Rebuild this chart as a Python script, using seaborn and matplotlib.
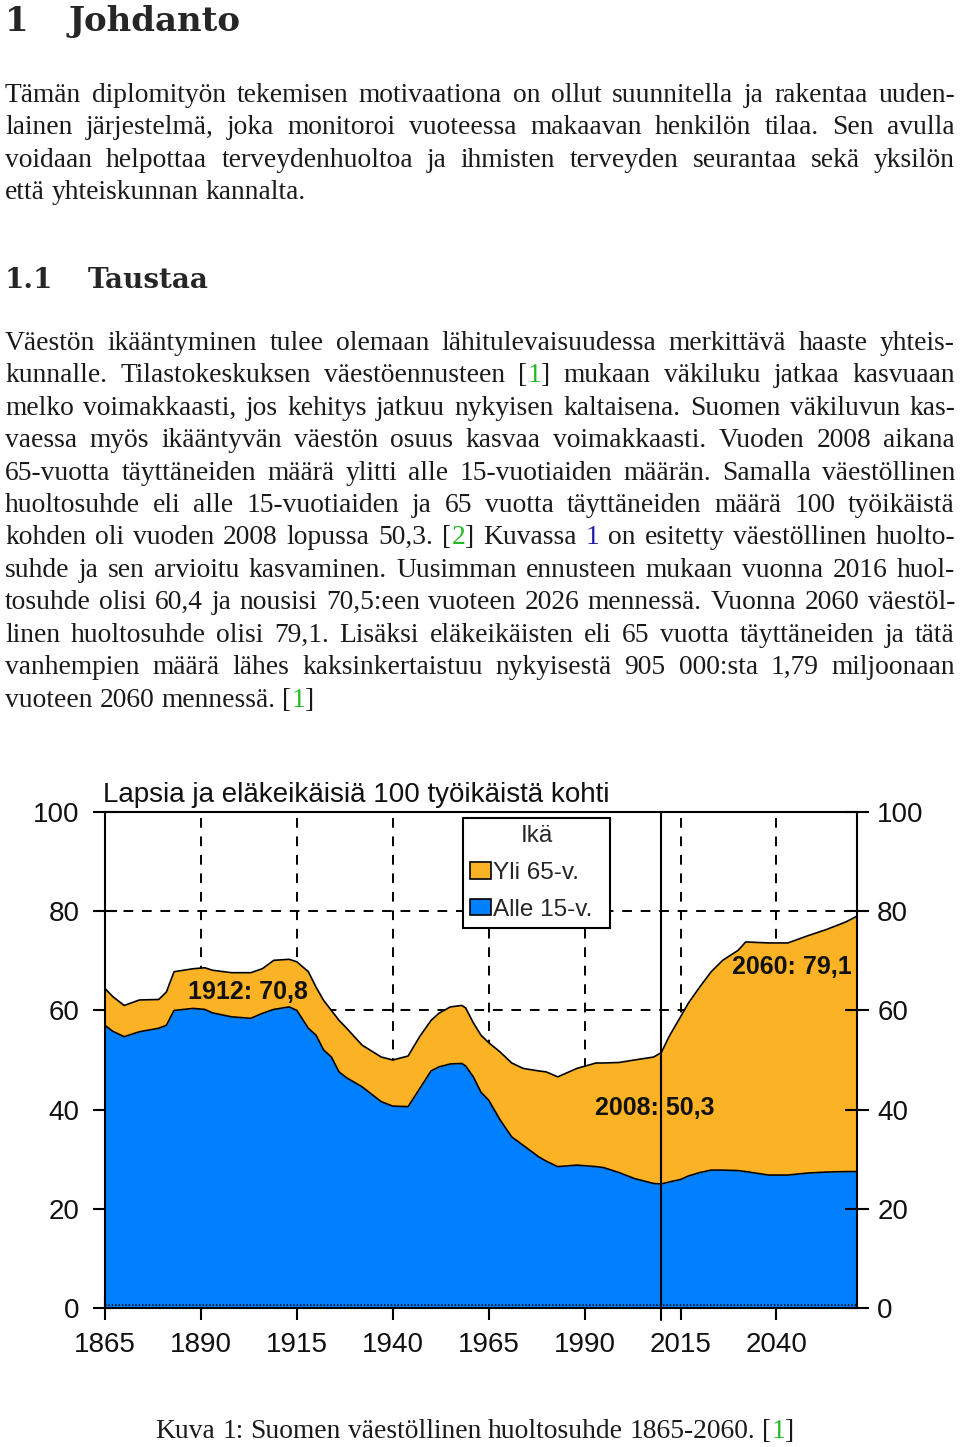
import re

import matplotlib
matplotlib.use("Agg")
import matplotlib.pyplot as plt
from matplotlib.patches import Patch
import seaborn as sns

# ---- chart data ----
years = [1865, 1867, 1870, 1874, 1879, 1881, 1883, 1888, 1891, 1893, 1898, 1903,
         1906, 1909, 1913, 1915, 1918, 1920, 1922, 1924, 1926, 1928, 1932, 1937,
         1940, 1944, 1947, 1950, 1952, 1955, 1958, 1959, 1961, 1963, 1965, 1968,
         1971, 1974, 1978, 1980, 1983, 1988, 1993, 1995, 1999, 2003, 2008, 2010,
         2012, 2015, 2017, 2020, 2023, 2026, 2030, 2032, 2038, 2043, 2048, 2053,
         2058, 2061]
total_ratio = [64.4, 62.8, 61.0, 62.1, 62.2, 63.7, 67.8, 68.4, 68.6, 68.1, 67.6, 67.6,
               68.4, 70.1, 70.3, 69.8, 67.8, 64.7, 62.0, 60.0, 58.0, 56.4, 53.0, 50.6,
               50.0, 50.8, 54.7, 58.0, 59.4, 60.7, 61.0, 60.5, 57.5, 55.0, 53.5, 51.6,
               49.4, 48.3, 47.8, 47.6, 46.6, 48.3, 49.4, 49.4, 49.5, 50.0, 50.6, 51.5,
               54.7, 58.7, 61.4, 64.7, 67.8, 70.1, 72.1, 73.8, 73.6, 73.6, 75.0, 76.3,
               77.8, 79.0]
under_15 = [57.0, 55.8, 54.7, 55.7, 56.4, 57.0, 60.0, 60.4, 60.2, 59.5, 58.7, 58.4,
            59.4, 60.2, 60.7, 60.0, 56.4, 55.0, 52.0, 50.6, 47.6, 46.4, 44.6, 41.6,
            40.7, 40.6, 44.2, 47.8, 48.6, 49.2, 49.3, 48.8, 46.6, 43.5, 41.9, 37.9,
            34.5, 32.8, 30.5, 29.6, 28.5, 28.8, 28.5, 28.3, 27.3, 26.1, 25.1, 25.0,
            25.4, 25.9, 26.6, 27.3, 27.8, 27.8, 27.7, 27.5, 26.8, 26.8, 27.2, 27.4,
            27.5, 27.5]
x_ticks = [1865, 1890, 1915, 1940, 1965, 1990, 2015, 2040]
y_ticks = [0, 20, 40, 60, 80, 100]
grid_years = [1890, 1915, 1940, 1965, 1990, 2015, 2040]
grid_levels = [20, 40, 60, 80]
now_year = 2010
note_labels = ["1912: 70,8", "2008: 50,3", "2060: 79,1"]
legend_title = "Ikä"
legend_labels = ["Yli 65-v.", "Alle 15-v."]
chart_title = "Lapsia ja eläkeikäisiä 100 työikäistä kohti"

# ---- page text ----
para1 = [
    "Tämän diplomityön tekemisen motivaationa on ollut suunnitella ja rakentaa uuden-",
    "lainen järjestelmä, joka monitoroi vuoteessa makaavan henkilön tilaa. Sen avulla",
    "voidaan helpottaa terveydenhuoltoa ja ihmisten terveyden seurantaa sekä yksilön",
    "että yhteiskunnan kannalta.",
]
para2 = [
    "Väestön ikääntyminen tulee olemaan lähitulevaisuudessa merkittävä haaste yhteis-",
    "kunnalle. Tilastokeskuksen väestöennusteen [{g:1}] mukaan väkiluku jatkaa kasvuaan",
    "melko voimakkaasti, jos kehitys jatkuu nykyisen kaltaisena. Suomen väkiluvun kas-",
    "vaessa myös ikääntyvän väestön osuus kasvaa voimakkaasti. Vuoden 2008 aikana",
    "65-vuotta täyttäneiden määrä ylitti alle 15-vuotiaiden määrän. Samalla väestöllinen",
    "huoltosuhde eli alle 15-vuotiaiden ja 65 vuotta täyttäneiden määrä 100 työikäistä",
    "kohden oli vuoden 2008 lopussa 50,3. [{g:2}] Kuvassa {b:1} on esitetty väestöllinen huolto-",
    "suhde ja sen arvioitu kasvaminen. Uusimman ennusteen mukaan vuonna 2016 huol-",
    "tosuhde olisi 60,4 ja nousisi 70,5:een vuoteen 2026 mennessä. Vuonna 2060 väestöl-",
    "linen huoltosuhde olisi 79,1. Lisäksi eläkeikäisten eli 65 vuotta täyttäneiden ja tätä",
    "vanhempien määrä lähes kaksinkertaistuu nykyisestä 905 000:sta 1,79 miljoonaan",
    "vuoteen 2060 mennessä. [{g:1}]",
]
caption = "Kuva 1: Suomen väestöllinen huoltosuhde 1865-2060. [{g:1}]"

ORANGE = "#fbb224"
BLUE = "#0080ff"
SERIF = ["Liberation Serif", "DejaVu Serif"]
HEAD = ["DejaVu Serif"]
SANS = ["Liberation Sans", "DejaVu Sans"]
NARROW = ["Liberation Sans Narrow", "Liberation Sans", "DejaVu Sans"]
INK = {"g": "#22b822", "b": "#1c1ca8", None: "#1a1a1a"}
BODY_SIZE = 19.8

sns.set_theme(style="white")
plt.rcParams["font.family"] = SANS

W, H = 960, 1447
fig = plt.figure(figsize=(W / 100, H / 100), dpi=100)
renderer = fig.canvas.get_renderer()


def fy(y):
    return 1 - y / H


TOKEN = re.compile(r"\{(g|b):([^}]*)\}|([^{]+)")


def segments(word):
    out = []
    for m in TOKEN.finditer(word):
        if m.group(1):
            out.append((m.group(2), INK[m.group(1)]))
        else:
            out.append((m.group(3), INK[None]))
    return out


def width_of(s, size, family):
    t = fig.text(0, 0, s, fontsize=size, family=family)
    w = t.get_window_extent(renderer).width
    t.remove()
    return w


def put_line(line, y, x0=5, x1=955, justify=True, size=BODY_SIZE, center=None):
    words = []
    for w in line.split(" "):
        pieces, ww = [], 0.0
        for txt, col in segments(w):
            t = fig.text(0, fy(y), txt, color=col, fontsize=size, family=SERIF,
                         va="baseline", ha="left")
            pieces.append((t, ww))
            ww += t.get_window_extent(renderer).width
        words.append((pieces, ww))
    space = width_of("x x", size, SERIF) - width_of("xx", size, SERIF)
    natural = sum(w for _, w in words)
    if justify and len(words) > 1:
        gap = (x1 - x0 - natural) / (len(words) - 1)
    else:
        gap = space
    if center is not None:
        x0 = center - (natural + gap * (len(words) - 1)) / 2
    x = x0
    for pieces, ww in words:
        for t, off in pieces:
            t.set_x((x + off) / W)
        x += ww + gap


# headings
fig.text(5 / W, fy(31), "1", fontsize=24.5, family=HEAD, weight="bold", va="baseline")
fig.text(68 / W, fy(31), "Johdanto", fontsize=24.5, family=HEAD, weight="bold", va="baseline")
fig.text(5 / W, fy(288), "1.1", fontsize=20, family=HEAD, weight="bold", va="baseline")
fig.text(88 / W, fy(288), "Taustaa", fontsize=20, family=HEAD, weight="bold", va="baseline")

for i, line in enumerate(para1):
    put_line(line, 101.7 + 32.45 * i, justify=i < len(para1) - 1)
for i, line in enumerate(para2):
    put_line(line, 349.7 + 32.45 * i, justify=i < len(para2) - 1)
put_line(caption, 1438.5, justify=False, center=475)

# ---- chart ----
ax = fig.add_axes([105 / W, fy(1308), 752 / W, 496 / H])
for gx in grid_years:
    ax.axvline(gx, color="black", lw=1.4, ls=(0, (5, 4.5)), zorder=1)
for gl in grid_levels:
    ax.axhline(gl, color="black", lw=1.4, ls=(0, (5, 4.5)), zorder=1)

ax.fill_between(years, 0, under_15, color=BLUE, lw=0, zorder=2)
ax.fill_between(years, under_15, total_ratio, color=ORANGE, lw=0, zorder=2)
sns.lineplot(x=years, y=total_ratio, color="black", lw=1.2, ax=ax, zorder=3)
sns.lineplot(x=years, y=under_15, color="black", lw=1.2, ax=ax, zorder=3)
ax.axhline(0.7, color="black", lw=1.1, ls=(0, (1, 1.2)), zorder=3)
ax.axvline(now_year, ymin=-0.025, ymax=1, color="black", lw=1.5, zorder=4, clip_on=False)

note_pos = [(1902.3, 63.7), (2008.4, 40.3), (2044.1, 68.7)]
for lab, (nx, ny) in zip(note_labels, note_pos):
    ax.text(nx, ny, lab, ha="center", va="center", fontsize=18, weight="bold",
            family=SANS, color="#111111", zorder=5)

ax.set_xlim(1865, 2061)
ax.set_ylim(0, 100)
ax.set_xlabel("")
ax.set_ylabel("")
ax.set_xticks(x_ticks)
ax.set_yticks(y_ticks)
for s in ax.spines.values():
    s.set_visible(True)
    s.set_color("black")
    s.set_linewidth(1.5)
ax.tick_params(axis="both", direction="inout", length=17, width=1.5, color="black",
               labelcolor="#111111", labelsize=20, bottom=True, left=True)
ax.tick_params(axis="y", pad=10)
ax.tick_params(axis="x", pad=9)

ax2 = ax.twinx()
ax2.set_ylim(0, 100)
ax2.set_yticks(y_ticks)
ax2.tick_params(axis="y", direction="inout", length=17, width=1.5, color="black",
                labelcolor="#111111", labelsize=20, right=True, pad=6)
for s in ax2.spines.values():
    s.set_visible(False)
for lab in ax.get_xticklabels() + ax.get_yticklabels() + ax2.get_yticklabels():
    lab.set_fontfamily(NARROW)

handles = [Patch(facecolor=ORANGE, edgecolor="black", lw=1.2, label=legend_labels[0]),
           Patch(facecolor=BLUE, edgecolor="black", lw=1.2, label=legend_labels[1])]
leg = ax2.legend(handles=handles, title=legend_title, loc="upper left",
                 bbox_to_anchor=(0.476, 0.786, 0.1955, 0.2016), mode="expand",
                 frameon=True, fancybox=False, framealpha=1, edgecolor="black",
                 borderpad=0.3, labelspacing=0.6, handlelength=0.85, handleheight=0.65,
                 handletextpad=0.1, borderaxespad=0,
                 prop={"family": NARROW, "size": 17.5},
                 title_fontproperties={"family": NARROW, "size": 17.5})
leg.get_frame().set_linewidth(1.5)
leg.set_zorder(10)

fig.text(103 / W, fy(802), chart_title, fontsize=20, family=SANS, va="baseline",
         color="#111111")

fig.savefig("out.png", dpi=100)
